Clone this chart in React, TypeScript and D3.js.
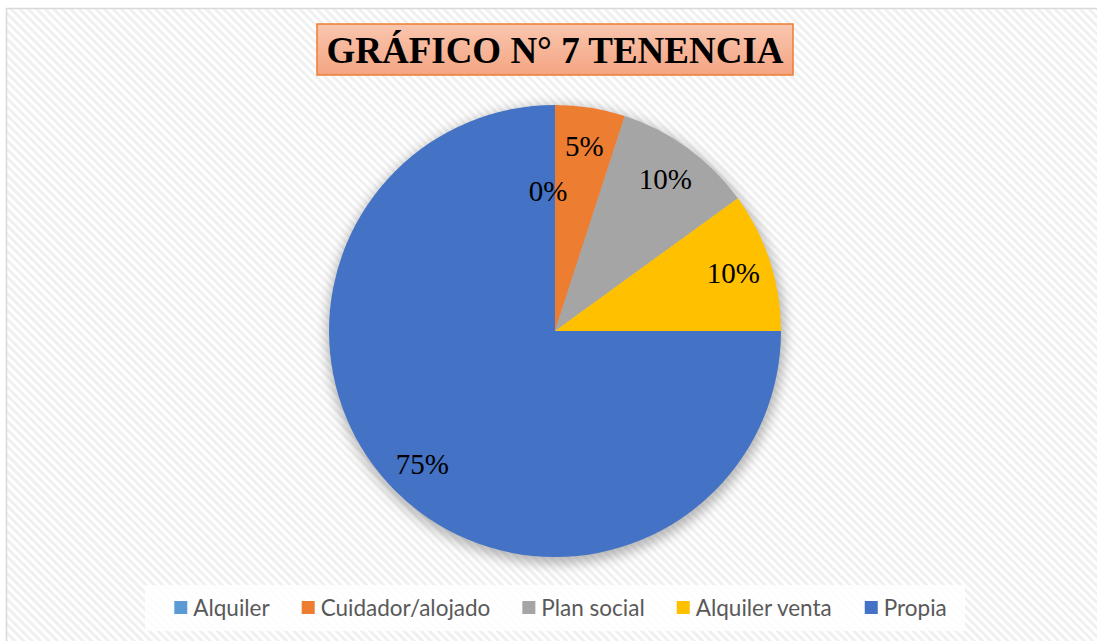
import React, { useEffect, useRef } from 'react';
import * as d3 from 'd3';

const categories = ['Alquiler', 'Cuidador/alojado', 'Plan social', 'Alquiler venta', 'Propia'];
const values = [0, 5, 10, 10, 75];
const colors = ['#5b9bd5', '#ed7d31', '#a5a5a5', '#ffc000', '#4472c4'];
const title = 'GRÁFICO N° 7 TENENCIA';

const W = 1097;
const H = 641;

const App: React.FC = () => {
    const ref = useRef<SVGSVGElement>(null);

    useEffect(() => {
        const svg = d3.select(ref.current);
        svg.selectAll('*').remove();

        const defs = svg.append('defs');

        // diagonal stripes of the chart area
        const pat = defs.append('pattern')
            .attr('id', 'stripes')
            .attr('patternUnits', 'userSpaceOnUse')
            .attr('width', 6)
            .attr('height', 6)
            .attr('patternTransform', 'rotate(-45)');
        pat.append('rect').attr('width', 6).attr('height', 6).attr('fill', '#ffffff');
        pat.append('rect').attr('width', 3).attr('height', 6).attr('fill', '#f0f0f0');

        const grad = defs.append('linearGradient')
            .attr('id', 'titleFill')
            .attr('x1', 0).attr('x2', 0).attr('y1', 0).attr('y2', 1);
        grad.append('stop').attr('offset', '0%').attr('stop-color', '#f9c6af');
        grad.append('stop').attr('offset', '100%').attr('stop-color', '#f4a582');

        const blur = defs.append('filter')
            .attr('id', 'glow')
            .attr('x', '-20%').attr('y', '-20%').attr('width', '140%').attr('height', '140%');
        blur.append('feGaussianBlur').attr('stdDeviation', 6);

        svg.append('rect').attr('width', W).attr('height', H).attr('fill', '#ffffff');

        svg.append('rect')
            .attr('x', 6.5)
            .attr('y', 8.5)
            .attr('width', W + 10)
            .attr('height', H + 10)
            .attr('fill', 'url(#stripes)')
            .attr('stroke', '#d9d9d9')
            .attr('stroke-width', 1.5);

        // title
        svg.append('rect')
            .attr('x', 317)
            .attr('y', 24)
            .attr('width', 476)
            .attr('height', 51)
            .attr('fill', 'url(#titleFill)')
            .attr('stroke', '#ed7d31')
            .attr('stroke-width', 1.5);
        svg.append('text')
            .attr('x', 555)
            .attr('y', 63)
            .attr('text-anchor', 'middle')
            .attr('font-family', '"Liberation Serif", "Times New Roman", serif')
            .attr('font-weight', 'bold')
            .attr('font-size', 37)
            .attr('fill', '#000')
            .text(title);

        // pie
        const cx = 555;
        const cy = 331;
        const r = 226;
        const g = svg.append('g').attr('transform', `translate(${cx},${cy})`);

        g.append('circle')
            .attr('cx', 1)
            .attr('cy', 4)
            .attr('r', r + 3)
            .attr('fill', '#7f7f7f')
            .attr('opacity', 0.55)
            .attr('filter', 'url(#glow)');

        const pie = d3.pie<number>().sort(null).value(d => d);
        const arcs = pie(values);
        const arc = d3.arc<d3.PieArcDatum<number>>().innerRadius(0).outerRadius(r);

        g.selectAll('path.slice')
            .data(arcs)
            .enter()
            .append('path')
            .attr('class', 'slice')
            .attr('d', arc)
            .attr('fill', (_, i) => colors[i]);

        const labelArc = d3.arc<d3.PieArcDatum<number>>().innerRadius(r * 0.83).outerRadius(r * 0.83);
        const zeroArc = d3.arc<d3.PieArcDatum<number>>().innerRadius(r * 0.62).outerRadius(r * 0.62);

        g.selectAll('text.lbl')
            .data(arcs)
            .enter()
            .append('text')
            .attr('class', 'lbl')
            .attr('transform', d => {
                const c = d.value === 0 ? zeroArc.centroid(d) : labelArc.centroid(d);
                return `translate(${c[0] - (d.value === 0 ? 7 : 0)},${c[1]})`;
            })
            .attr('text-anchor', 'middle')
            .attr('dy', '0.35em')
            .attr('font-family', '"Liberation Serif", "Times New Roman", serif')
            .attr('font-size', 29)
            .attr('fill', '#000')
            .text(d => `${d.value}%`);

        // legend
        const legend = svg.append('g');
        legend.append('rect')
            .attr('x', 145)
            .attr('y', 585)
            .attr('width', 820)
            .attr('height', 46)
            .attr('fill', '#ffffff')
            .attr('opacity', 0.85);

        const font = '22.5px Lato';
        const ctx = document.createElement('canvas').getContext('2d')!;
        ctx.font = font;
        const box = 13;
        const pad = 6;
        const gap = 32;
        const widths = categories.map(c => ctx.measureText(c).width);
        const total = d3.sum(widths) + categories.length * (box + pad) + (categories.length - 1) * gap;
        let x = 560.5 - total / 2;
        categories.forEach((c, i) => {
            legend.append('rect')
                .attr('x', x)
                .attr('y', 601)
                .attr('width', box)
                .attr('height', box)
                .attr('fill', colors[i]);
            legend.append('text')
                .attr('x', x + box + pad)
                .attr('y', 616)
                .attr('font-family', 'Lato, "Open Sans", sans-serif')
                .attr('font-size', 22.5)
                .attr('fill', '#595959')
                .text(c);
            x += box + pad + widths[i] + gap;
        });
    }, []);

    return (
        <svg
            ref={ref}
            width={W}
            height={H}
            style={{ position: 'absolute', left: 0, top: 0, display: 'block' }}
        />
    );
};

export default App;
